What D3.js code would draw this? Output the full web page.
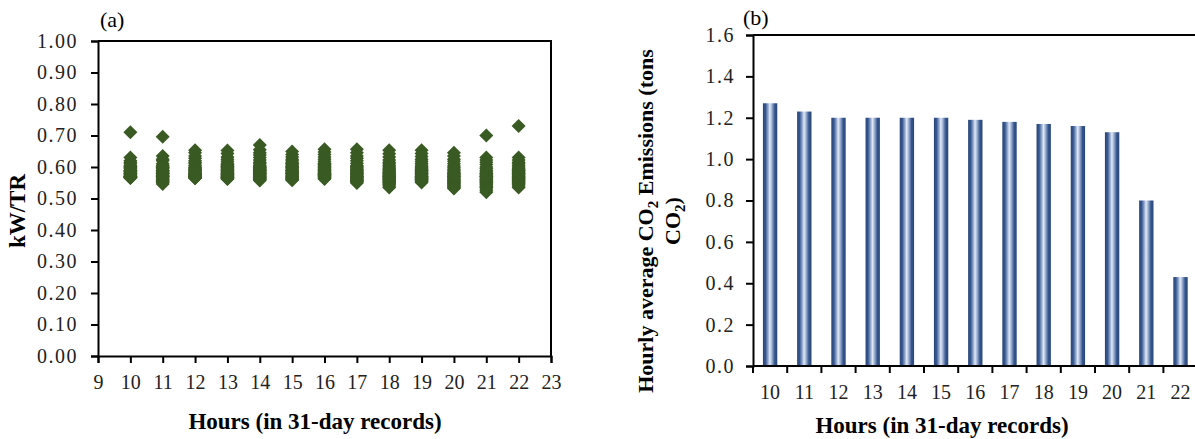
<!DOCTYPE html>
<html>
<head>
<meta charset="utf-8">
<script src="https://cdn.jsdelivr.net/npm/d3@7"></script>
<style>
body { margin: 0; background: #fff; }
svg, svg text { font-family: "Liberation Serif", "Times New Roman", serif; }
svg { display: block; }
</style>
</head>
<body>
<script>
// ---- panel (a): kW/TR, 31 daily readings per hour ----
var scatterHours = [10, 11, 12, 13, 14, 15, 16, 17, 18, 19, 20, 21, 22];
var kwtr10 = [0.71, 0.63, 0.62, 0.615, 0.61, 0.605, 0.60, 0.60, 0.595, 0.59, 0.59, 0.585, 0.585, 0.58, 0.58, 0.58, 0.575, 0.575, 0.575, 0.57, 0.57, 0.57, 0.57, 0.568, 0.567, 0.567, 0.566, 0.565, 0.585, 0.59, 0.60];
var kwtr11 = [0.696, 0.635, 0.625, 0.62, 0.61, 0.605, 0.60, 0.598, 0.595, 0.59, 0.588, 0.585, 0.582, 0.58, 0.578, 0.575, 0.572, 0.57, 0.568, 0.565, 0.562, 0.56, 0.558, 0.555, 0.553, 0.55, 0.546, 0.59, 0.58, 0.57, 0.60];
var kwtr12 = [0.653, 0.645, 0.635, 0.628, 0.62, 0.615, 0.61, 0.605, 0.60, 0.598, 0.595, 0.592, 0.59, 0.588, 0.585, 0.582, 0.58, 0.578, 0.576, 0.575, 0.573, 0.572, 0.57, 0.569, 0.568, 0.567, 0.566, 0.565, 0.564, 0.58, 0.59];
var kwtr13 = [0.652, 0.643, 0.632, 0.625, 0.618, 0.612, 0.608, 0.605, 0.602, 0.60, 0.597, 0.594, 0.591, 0.588, 0.585, 0.583, 0.58, 0.578, 0.576, 0.574, 0.572, 0.57, 0.569, 0.567, 0.566, 0.565, 0.563, 0.562, 0.59, 0.58, 0.60];
var kwtr14 = [0.670, 0.655, 0.645, 0.638, 0.63, 0.622, 0.615, 0.61, 0.605, 0.60, 0.598, 0.595, 0.592, 0.59, 0.587, 0.585, 0.582, 0.58, 0.577, 0.575, 0.572, 0.57, 0.568, 0.566, 0.564, 0.562, 0.56, 0.557, 0.58, 0.59, 0.60];
var kwtr15 = [0.649, 0.64, 0.632, 0.625, 0.62, 0.615, 0.61, 0.606, 0.602, 0.60, 0.597, 0.594, 0.59, 0.588, 0.585, 0.582, 0.58, 0.578, 0.575, 0.572, 0.57, 0.568, 0.566, 0.564, 0.562, 0.56, 0.558, 0.59, 0.58, 0.60, 0.61];
var kwtr16 = [0.656, 0.648, 0.64, 0.632, 0.625, 0.618, 0.612, 0.608, 0.604, 0.60, 0.597, 0.594, 0.591, 0.588, 0.585, 0.582, 0.58, 0.578, 0.576, 0.574, 0.572, 0.57, 0.568, 0.566, 0.564, 0.562, 0.59, 0.58, 0.60, 0.61, 0.575];
var kwtr17 = [0.656, 0.645, 0.635, 0.628, 0.62, 0.612, 0.605, 0.60, 0.596, 0.592, 0.588, 0.585, 0.582, 0.579, 0.576, 0.573, 0.57, 0.568, 0.566, 0.564, 0.562, 0.56, 0.558, 0.556, 0.554, 0.552, 0.549, 0.58, 0.57, 0.59, 0.60];
var kwtr18 = [0.653, 0.642, 0.632, 0.622, 0.615, 0.61, 0.605, 0.60, 0.596, 0.592, 0.588, 0.585, 0.582, 0.578, 0.575, 0.572, 0.57, 0.567, 0.564, 0.562, 0.56, 0.557, 0.555, 0.552, 0.55, 0.547, 0.544, 0.54, 0.535, 0.58, 0.57];
var kwtr19 = [0.653, 0.643, 0.633, 0.625, 0.618, 0.612, 0.606, 0.60, 0.596, 0.592, 0.588, 0.585, 0.582, 0.579, 0.576, 0.573, 0.57, 0.568, 0.566, 0.564, 0.562, 0.56, 0.558, 0.556, 0.554, 0.551, 0.58, 0.57, 0.59, 0.60, 0.565];
var kwtr20 = [0.645, 0.635, 0.625, 0.618, 0.61, 0.603, 0.598, 0.593, 0.588, 0.584, 0.58, 0.577, 0.574, 0.571, 0.568, 0.565, 0.562, 0.56, 0.557, 0.555, 0.552, 0.55, 0.548, 0.545, 0.542, 0.54, 0.537, 0.535, 0.532, 0.57, 0.58];
var kwtr21 = [0.70, 0.63, 0.622, 0.615, 0.608, 0.60, 0.595, 0.59, 0.585, 0.58, 0.577, 0.574, 0.571, 0.568, 0.565, 0.562, 0.56, 0.557, 0.555, 0.552, 0.55, 0.547, 0.544, 0.54, 0.537, 0.535, 0.53, 0.525, 0.52, 0.57, 0.58];
var kwtr22 = [0.730, 0.63, 0.622, 0.615, 0.61, 0.605, 0.60, 0.596, 0.592, 0.588, 0.585, 0.582, 0.579, 0.576, 0.573, 0.57, 0.568, 0.566, 0.564, 0.562, 0.56, 0.557, 0.555, 0.552, 0.55, 0.547, 0.544, 0.54, 0.535, 0.58, 0.59];
var kwtrByHour = [kwtr10, kwtr11, kwtr12, kwtr13, kwtr14, kwtr15, kwtr16, kwtr17, kwtr18, kwtr19, kwtr20, kwtr21, kwtr22];
var kwtrTicks = [0, 0.1, 0.2, 0.3, 0.4, 0.5, 0.6, 0.7, 0.8, 0.9, 1.0];
var hourTicks = [9, 10, 11, 12, 13, 14, 15, 16, 17, 18, 19, 20, 21, 22, 23];

// ---- panel (b): hourly average CO2 emissions ----
var barHours = [10, 11, 12, 13, 14, 15, 16, 17, 18, 19, 20, 21, 22];
var co2Values = [1.27, 1.23, 1.20, 1.20, 1.20, 1.20, 1.19, 1.18, 1.17, 1.16, 1.13, 0.80, 0.43];
var co2Ticks = [0, 0.2, 0.4, 0.6, 0.8, 1.0, 1.2, 1.4, 1.6];

var W = 1195, H = 439;
var FONT = '"Liberation Serif", "Times New Roman", serif';
var svg = d3.select("body").append("svg")
    .attr("width", W)
    .attr("height", H);

// flatten scatter points
var points = [];
scatterHours.forEach(function(h, i){
    kwtrByHour[i].forEach(function(v){ points.push({hour: h, value: v}); });
});

//===== panel (a) =====
var xA = d3.scaleLinear().domain([9, 23]).range([98, 551]);
var yA = d3.scaleLinear().domain([0, 1]).range([356, 41]);

var gA = svg.append("g");

// diamonds
var diamond = "M0,-7L7,0L0,7L-7,0Z";
gA.selectAll(".pt")
    .data(points)
    .enter()
    .append("path")
    .attr("class", "pt")
    .attr("d", diamond)
    .attr("transform", function(d){ return "translate(" + xA(d.hour) + "," + yA(d.value) + ")"; })
    .attr("fill", "#3a5a24");

// frame (top + right)
gA.append("path")
    .attr("d", "M" + xA(9) + "," + yA(1) + "H" + xA(23) + "V" + yA(0))
    .attr("fill", "none").attr("stroke", "#000").attr("stroke-width", 2);

var axisLeftA = gA.append("g")
    .attr("transform", "translate(" + xA(9) + ",0)")
    .call(d3.axisLeft(yA).tickValues(kwtrTicks).tickFormat(d3.format(".2f")).tickSize(7).tickPadding(13));
var axisBottomA = gA.append("g")
    .attr("transform", "translate(0," + yA(0) + ")")
    .call(d3.axisBottom(xA).tickValues(hourTicks).tickFormat(d3.format("d")).tickSize(7).tickPadding(12));

[axisLeftA, axisBottomA].forEach(function(ax){
    ax.attr("font-family", null);
    ax.select(".domain").attr("stroke", "#000").attr("stroke-width", 2);
    ax.selectAll(".tick line").attr("stroke", "#000").attr("stroke-width", 2);
    ax.selectAll(".tick text").style("font-family", FONT).style("font-size", "20px").attr("fill", "#222");
});
axisLeftA.selectAll(".tick text").style("letter-spacing", "1.5px");

gA.append("text")
    .attr("transform", "translate(25,211) rotate(-90)")
    .attr("text-anchor", "middle")
    .style("font-weight", "bold").style("font-size", "23px")
    .text("kW/TR");

gA.append("text")
    .attr("x", 315).attr("y", 429)
    .attr("text-anchor", "middle")
    .style("font-weight", "bold").style("font-size", "23px")
    .text("Hours (in 31-day records)");

gA.append("text")
    .attr("x", 100).attr("y", 27)
    .style("font-size", "22px")
    .text("(a)");

//===== panel (b) =====
var xB = d3.scaleBand().domain(barHours).range([753, 753 + 13 * 34.2]).paddingInner(0.58).paddingOuter(0.29);
var yB = d3.scaleLinear().domain([0, 1.6]).range([366, 35]);

var defs = svg.append("defs");
var grad = defs.append("linearGradient").attr("id", "barGrad")
    .attr("x1", "0").attr("x2", "1").attr("y1", "0").attr("y2", "0");
[["0%", "#29467a"], ["18%", "#36578f"], ["38%", "#9fb3d5"], ["48%", "#e2e9f4"], ["60%", "#a9bbdb"], ["82%", "#35568d"], ["100%", "#29467a"]]
    .forEach(function(s){ grad.append("stop").attr("offset", s[0]).attr("stop-color", s[1]); });

var gB = svg.append("g");

gB.selectAll(".bar")
    .data(barHours)
    .enter()
    .append("rect")
    .attr("class", "bar")
    .attr("x", function(d){ return xB(d); })
    .attr("width", xB.bandwidth())
    .attr("y", function(d, i){ return yB(co2Values[i]); })
    .attr("height", function(d, i){ return yB(0) - yB(co2Values[i]); })
    .attr("fill", "url(#barGrad)");

// top border
gB.append("line")
    .attr("x1", 753).attr("x2", 753 + 13 * 34.2)
    .attr("y1", yB(1.6)).attr("y2", yB(1.6))
    .attr("stroke", "#000").attr("stroke-width", 2);

var axisLeftB = gB.append("g")
    .attr("transform", "translate(753,0)")
    .call(d3.axisLeft(yB).tickValues(co2Ticks).tickFormat(d3.format(".1f")).tickSize(7).tickPadding(11));

// bottom axis: line, boundary ticks, centred labels
var bottomB = gB.append("g");
bottomB.append("line")
    .attr("x1", 753).attr("x2", 753 + 13 * 34.2)
    .attr("y1", yB(0)).attr("y2", yB(0))
    .attr("stroke", "#000").attr("stroke-width", 2);
var step = xB.step();
var bounds = barHours.map(function(d){ return xB(d) + xB.bandwidth() / 2 - step / 2; });
bounds.push(bounds[bounds.length - 1] + step);
bottomB.selectAll(".btick")
    .data(bounds)
    .enter()
    .append("line")
    .attr("class", "btick")
    .attr("x1", function(d){ return d; }).attr("x2", function(d){ return d; })
    .attr("y1", yB(0)).attr("y2", yB(0) + 7)
    .attr("stroke", "#000").attr("stroke-width", 2);
bottomB.selectAll(".blab")
    .data(barHours)
    .enter()
    .append("text")
    .attr("class", "blab")
    .attr("x", function(d){ return xB(d) + xB.bandwidth() / 2; })
    .attr("y", 399)
    .attr("text-anchor", "middle")
    .style("font-size", "20px").attr("fill", "#222")
    .text(function(d){ return d; });

axisLeftB.attr("font-family", null);
axisLeftB.select(".domain").attr("stroke", "#000").attr("stroke-width", 2);
axisLeftB.selectAll(".tick line").attr("stroke", "#000").attr("stroke-width", 2);
axisLeftB.selectAll(".tick text").style("font-family", FONT).style("font-size", "20px").attr("fill", "#222").style("letter-spacing", "1.5px");

// y title, two lines with subscripts
var yt = gB.append("text")
    .attr("transform", "translate(0,221) rotate(-90)")
    .attr("text-anchor", "middle")
    .style("font-weight", "bold").style("font-size", "22px");
var l1 = yt.append("tspan").attr("x", 0).attr("y", 653);
l1.append("tspan").text("Hourly average CO");
l1.append("tspan").style("font-size", "15px").attr("dy", 5).text("2");
l1.append("tspan").attr("dy", -5).text(" Emissions (tons");
var l2 = yt.append("tspan").attr("x", 0).attr("y", 680);
l2.append("tspan").text("CO");
l2.append("tspan").style("font-size", "15px").attr("dy", 5).text("2");
l2.append("tspan").attr("dy", -5).text(")");

gB.append("text")
    .attr("x", 942).attr("y", 433)
    .attr("text-anchor", "middle")
    .style("font-weight", "bold").style("font-size", "23px")
    .text("Hours (in 31-day records)");

gB.append("text")
    .attr("x", 743).attr("y", 25)
    .style("font-size", "22px")
    .text("(b)");
</script>
</body>
</html>
